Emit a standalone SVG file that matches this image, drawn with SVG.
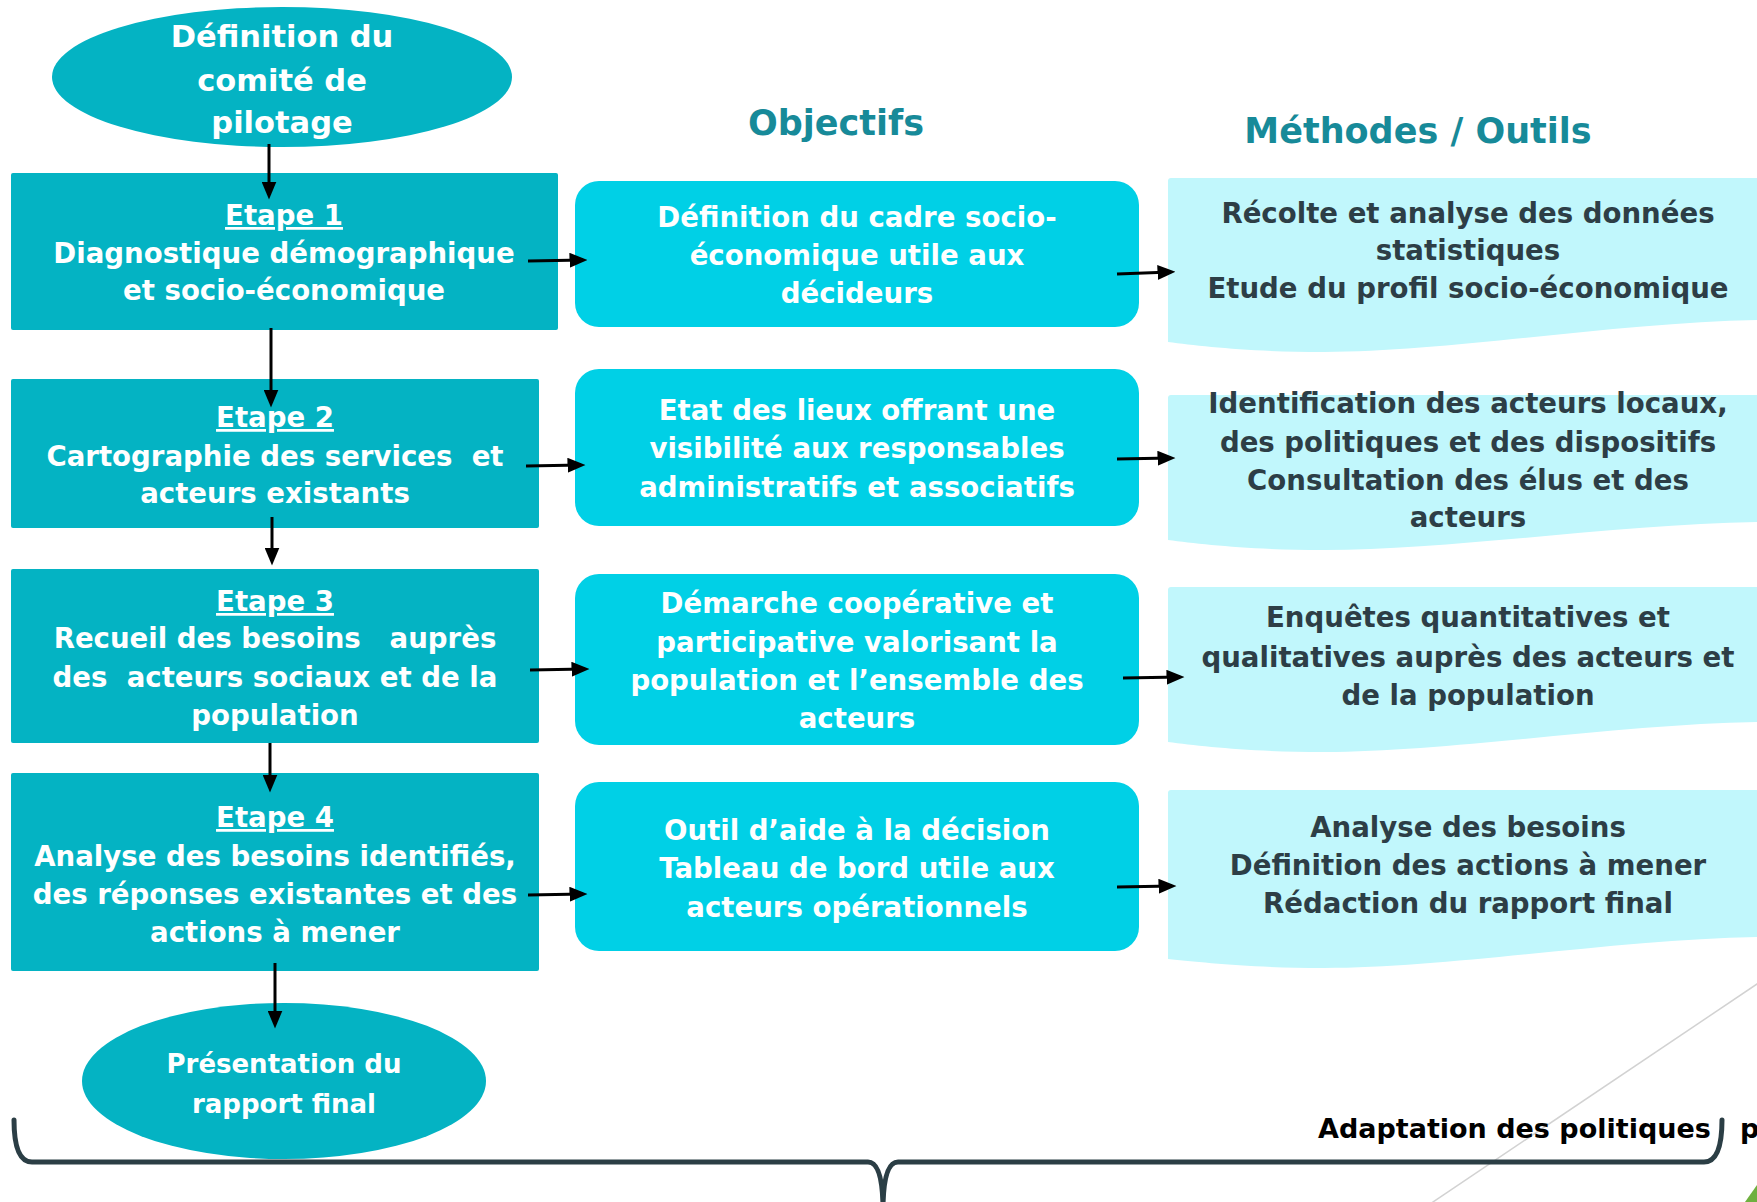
<svg xmlns="http://www.w3.org/2000/svg" width="1757" height="1202" viewBox="0 0 1757 1202">
<style>
text{font-family:"DejaVu Sans","Liberation Sans",sans-serif;font-weight:bold;text-anchor:middle}
.w{fill:#ffffff;font-size:27.6px}
.m{fill:#2d3e46;font-size:27.6px}
.h{fill:#178a99;font-size:35px}
.pre{white-space:pre}
.step{fill:#04b3c3}
.obj{fill:#00d0e6}
.meth{fill:#c1f7fc}
.ln{stroke:#000;stroke-width:3;fill:none;marker-end:url(#ah)}
</style>
<defs>
<marker id="ah" viewBox="0 0 12 10" refX="9" refY="5" markerWidth="6" markerHeight="5" orient="auto" markerUnits="strokeWidth">
<path d="M0,0 L12,5 L0,10 z" fill="#000"/>
</marker>
</defs>
<rect width="1757" height="1202" fill="#ffffff"/>

<line x1="1760" y1="982" x2="1430" y2="1204" stroke="#d2d2d2" stroke-width="1.5"/>
<path d="M1757,1185 L1757,1202 L1745,1202 Z" fill="#6fb03f"/>

<text class="h" x="836" y="135">Objectifs</text>
<text class="h" x="1418" y="143">Méthodes / Outils</text>

<g id="start">
<ellipse cx="282" cy="77" rx="230" ry="70" class="step"/>
<text class="w" style="font-size:30.5px" x="282" y="47">Définition du</text>
<text class="w" style="font-size:30.5px" x="282" y="91">comité de</text>
<text class="w" style="font-size:30.5px" x="282" y="133">pilotage</text>
</g>

<g id="etape1">
<rect x="11" y="173" width="547" height="157" rx="2" class="step"/>
<text class="w" x="284" y="225" text-decoration="underline">Etape 1</text>
<text class="w" x="284" y="263">Diagnostique démographique</text>
<text class="w" x="284" y="300">et socio-économique</text>
</g>

<g id="etape2">
<rect x="11" y="379" width="528" height="149" rx="2" class="step"/>
<text class="w" x="275" y="427" text-decoration="underline">Etape 2</text>
<text class="w pre" x="275" y="466">Cartographie des services  et</text>
<text class="w" x="275" y="503">acteurs existants</text>
</g>

<g id="etape3">
<rect x="11" y="569" width="528" height="174" rx="2" class="step"/>
<text class="w" x="275" y="611" text-decoration="underline">Etape 3</text>
<text class="w pre" x="275" y="648">Recueil des besoins   auprès</text>
<text class="w pre" x="275" y="687">des  acteurs sociaux et de la</text>
<text class="w" x="275" y="725">population</text>
</g>

<g id="etape4">
<rect x="11" y="773" width="528" height="198" rx="2" class="step"/>
<text class="w" x="275" y="827" text-decoration="underline">Etape 4</text>
<text class="w" x="275" y="866">Analyse des besoins identifiés,</text>
<text class="w" x="275" y="904">des réponses existantes et des</text>
<text class="w" x="275" y="942">actions à mener</text>
</g>

<g id="end">
<ellipse cx="284" cy="1081" rx="202" ry="78" class="step"/>
<text class="w" style="font-size:26px" x="284" y="1073">Présentation du</text>
<text class="w" style="font-size:26px" x="284" y="1113">rapport final</text>
</g>

<g id="objectif1">
<rect x="575" y="181" width="564" height="146" rx="24" class="obj"/>
<text class="w" x="857" y="227">Définition du cadre socio-</text>
<text class="w" x="857" y="265">économique utile aux</text>
<text class="w" x="857" y="303">décideurs</text>
</g>

<g id="objectif2">
<rect x="575" y="369" width="564" height="157" rx="24" class="obj"/>
<text class="w" x="857" y="420">Etat des lieux offrant une</text>
<text class="w" x="857" y="458">visibilité aux responsables</text>
<text class="w" x="857" y="497">administratifs et associatifs</text>
</g>

<g id="objectif3">
<rect x="575" y="574" width="564" height="171" rx="24" class="obj"/>
<text class="w" x="857" y="613">Démarche coopérative et</text>
<text class="w" x="857" y="652">participative valorisant la</text>
<text class="w" x="857" y="690">population et l’ensemble des</text>
<text class="w" x="857" y="728">acteurs</text>
</g>

<g id="objectif4">
<rect x="575" y="782" width="564" height="169" rx="24" class="obj"/>
<text class="w" x="857" y="840">Outil d’aide à la décision</text>
<text class="w" x="857" y="878">Tableau de bord utile aux</text>
<text class="w" x="857" y="917">acteurs opérationnels</text>
</g>

<g id="methode1">
<path class="meth" d="M1171,178 H1760 V320 C1620,322 1450,352 1324,352 C1250,352 1200,346 1168,342 V181 Q1168,178 1171,178 Z"/>
<text class="m" x="1468" y="223">Récolte et analyse des données</text>
<text class="m" x="1468" y="260">statistiques</text>
<text class="m" x="1468" y="298">Etude du profil socio-économique</text>
</g>

<g id="methode2">
<path class="meth" d="M1171,395 H1760 V522 C1620,524 1450,550 1324,550 C1250,550 1200,544 1168,540 V398 Q1168,395 1171,395 Z"/>
<text class="m" x="1468" y="413">Identification des acteurs locaux,</text>
<text class="m" x="1468" y="452">des politiques et des dispositifs</text>
<text class="m" x="1468" y="490">Consultation des élus et des</text>
<text class="m" x="1468" y="527">acteurs</text>
</g>

<g id="methode3">
<path class="meth" d="M1171,587 H1760 V722 C1620,724 1450,752 1324,752 C1250,752 1200,746 1168,742 V590 Q1168,587 1171,587 Z"/>
<text class="m" x="1468" y="627">Enquêtes quantitatives et</text>
<text class="m" x="1468" y="667">qualitatives auprès des acteurs et</text>
<text class="m" x="1468" y="705">de la population</text>
</g>

<g id="methode4">
<path class="meth" d="M1171,790 H1760 V937 C1620,939 1450,968 1324,968 C1250,968 1200,962 1168,959 V793 Q1168,790 1171,790 Z"/>
<text class="m" x="1468" y="837">Analyse des besoins</text>
<text class="m" x="1468" y="875">Définition des actions à mener</text>
<text class="m" x="1468" y="913">Rédaction du rapport final</text>
</g>

<g id="connectors">
<line class="ln" x1="269" y1="144" x2="269" y2="195"/>
<line class="ln" x1="271" y1="328" x2="271" y2="403"/>
<line class="ln" x1="272" y1="517" x2="272" y2="561"/>
<line class="ln" x1="270" y1="743" x2="270" y2="788"/>
<line class="ln" x1="275" y1="963" x2="275" y2="1024"/>
<line class="ln" x1="528" y1="261" x2="583" y2="260"/>
<line class="ln" x1="526" y1="466" x2="581" y2="465"/>
<line class="ln" x1="530" y1="670" x2="585" y2="669"/>
<line class="ln" x1="528" y1="895" x2="583" y2="894"/>
<line class="ln" x1="1117" y1="274" x2="1171" y2="272"/>
<line class="ln" x1="1117" y1="459" x2="1171" y2="458"/>
<line class="ln" x1="1123" y1="678" x2="1180" y2="677"/>
<line class="ln" x1="1117" y1="887" x2="1172" y2="886"/>
</g>

<g id="brace">
<path d="M14,1120 Q14,1162 32,1162 L868,1162 Q882,1162 883,1205 M883,1205 Q884,1162 898,1162 L1704,1162 Q1722,1162 1722,1120" fill="none" stroke="#2b3e45" stroke-width="5" stroke-linecap="round" stroke-linejoin="round"/>
<text x="1318" y="1138" style="font-size:27px;fill:#000;text-anchor:start">Adaptation des politiques</text>
<text x="1740" y="1138" style="font-size:27px;fill:#000;text-anchor:start">p</text>
</g>
</svg>
